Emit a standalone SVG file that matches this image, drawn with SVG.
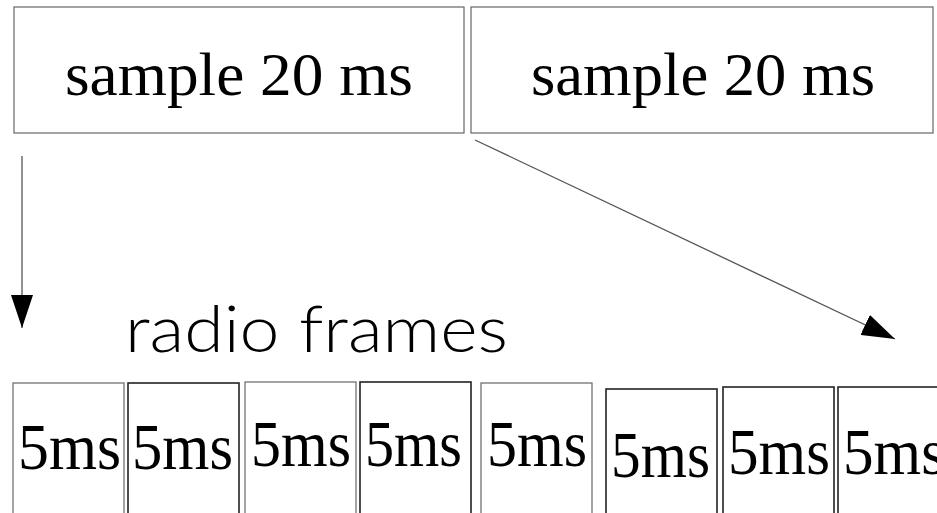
<svg xmlns="http://www.w3.org/2000/svg" width="937" height="513" viewBox="0 0 937 513">
<defs>
<style>
.box{fill:#fff;stroke:#666;stroke-width:1.2}
.dark{stroke:#222;stroke-width:1.6}
.big{font-family:"Liberation Serif","Times New Roman",serif;font-size:62px;fill:#000;text-anchor:middle}
.ms{font-family:"Liberation Serif","Times New Roman",serif;font-size:66px;fill:#000}
.lbl{font-family:Lato,"Liberation Sans",Arial,sans-serif;font-weight:300;font-size:66px;fill:#000}
.conn{stroke:#555;stroke-width:1.3;fill:none}
</style>
<marker id="ah" markerWidth="33" markerHeight="22" refX="33" refY="11" orient="auto" markerUnits="userSpaceOnUse">
<path d="M0,0 L33,11 L0,22 Z" fill="#000"/>
</marker>
</defs>
<rect width="937" height="513" fill="#fff"/>
<g id="sample1"><rect class="box" x="14" y="7" width="450" height="126"/><text class="big" x="239" y="95" textLength="348" lengthAdjust="spacingAndGlyphs">sample 20 ms</text></g>
<g id="sample2"><rect class="box" x="471" y="7" width="462" height="126"/><text class="big" x="703" y="95" textLength="344" lengthAdjust="spacingAndGlyphs">sample 20 ms</text></g>
<g id="label"><text class="lbl" x="125" y="352" textLength="383" lengthAdjust="spacingAndGlyphs">radio frames</text></g>
<g id="connectors">
<line class="conn" x1="22" y1="156" x2="22" y2="328" marker-end="url(#ah)"/>
<line class="conn" x1="475" y1="140" x2="895" y2="339" marker-end="url(#ah)"/>
</g>
<g id="f1"><rect class="box" x="13" y="383" width="111" height="140"/><text class="ms" x="18" y="469" textLength="103" lengthAdjust="spacingAndGlyphs">5ms</text></g>
<g id="f2"><rect class="box dark" x="128" y="383" width="111" height="140"/><text class="ms" x="132" y="469" textLength="101" lengthAdjust="spacingAndGlyphs">5ms</text></g>
<g id="f3"><rect class="box" x="245" y="382" width="111" height="140"/><text class="ms" x="251" y="466" textLength="100" lengthAdjust="spacingAndGlyphs">5ms</text></g>
<g id="f4"><rect class="box dark" x="360" y="382" width="111" height="140"/><text class="ms" x="365" y="466" textLength="97" lengthAdjust="spacingAndGlyphs">5ms</text></g>
<g id="f5"><rect class="box" x="481" y="383" width="111" height="140"/><text class="ms" x="487" y="466" textLength="100" lengthAdjust="spacingAndGlyphs">5ms</text></g>
<g id="f6"><rect class="box dark" x="606" y="389" width="111" height="140"/><text class="ms" x="611" y="477" textLength="99" lengthAdjust="spacingAndGlyphs">5ms</text></g>
<g id="f7"><rect class="box dark" x="723" y="387" width="111" height="140"/><text class="ms" x="728" y="474" textLength="102" lengthAdjust="spacingAndGlyphs">5ms</text></g>
<g id="f8"><rect class="box dark" x="838" y="387" width="111" height="140"/><text class="ms" x="843" y="474" textLength="102" lengthAdjust="spacingAndGlyphs">5ms</text></g>
</svg>
